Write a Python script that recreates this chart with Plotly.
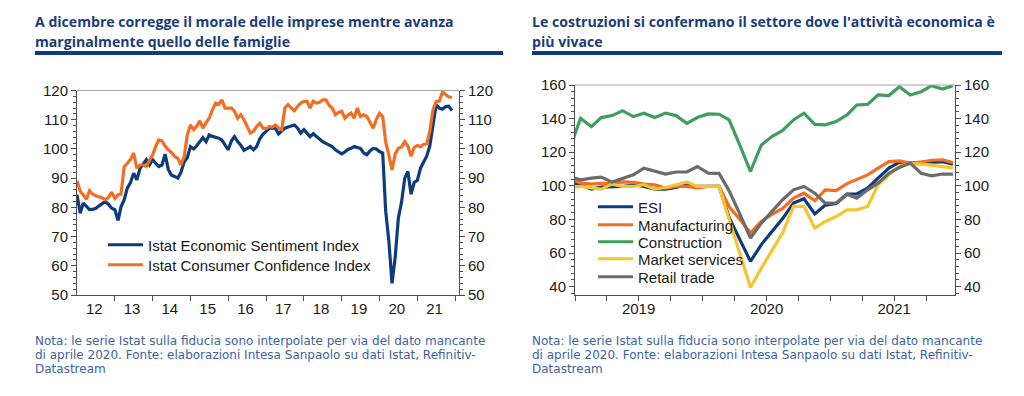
import pandas as pd
import plotly.graph_objects as go

# ---------------- data: left chart (monthly, Jan 2012 - Dec 2021) ----------------
left_months = pd.date_range("2012-01-01", "2021-12-01", freq="MS")
left_years = list(range(2012, 2022))
left_year_labels = ["12", "13", "14", "15", "16", "17", "18", "19", "20", "21"]

istat_esi = [
    84.3, 78.0, 81.5, 80.2, 79.2, 79.3, 79.7, 80.5, 81.4, 82.0,
    81.0, 79.7, 79.2, 75.5, 80.2, 82.6, 86.6, 88.5, 91.7, 89.4,
    93.4, 95.0, 96.3, 94.5, 96.3, 95.0, 94.0, 94.5, 98.2, 93.0,
    91.0, 90.6, 90.0, 92.0, 95.5, 97.0, 100.8, 100.0, 101.0, 102.5,
    103.9, 102.5, 104.8, 104.3, 103.9, 103.7, 103.0, 101.3, 99.7, 102.8,
    104.2, 102.5, 101.3, 99.5, 100.3, 100.8, 99.7, 100.8, 103.5, 105.0,
    106.0, 107.1, 107.1, 107.1, 105.1, 106.0, 107.1, 107.5, 107.9, 108.2,
    107.1, 105.4, 106.6, 105.5, 104.2, 105.2, 104.3, 103.1, 102.5, 101.9,
    101.2, 100.8, 99.7, 99.0, 98.3, 99.0, 99.8, 100.2, 100.8, 100.5,
    100.2, 98.6, 98.0, 99.3, 100.2, 100.0, 99.1, 98.6, 78.6, 68.3,
    54.0, 63.0, 76.3, 81.8, 90.0, 92.3, 84.5, 88.5, 89.3, 93.5,
    95.6, 97.5, 101.0, 108.0, 115.1, 114.0, 113.6, 114.5, 114.6, 113.1,
]
istat_cci = [
    89.0, 85.5, 84.3, 82.8, 85.7, 84.5, 84.0, 83.7, 83.2, 82.6,
    83.5, 85.2, 83.1, 84.3, 84.5, 94.0, 95.0, 96.5, 98.6, 93.4,
    94.5, 94.5, 94.0, 96.0, 98.0, 101.0, 103.1, 102.8, 101.0, 99.7,
    98.8, 97.4, 96.8, 94.5, 97.4, 104.8, 108.2, 106.6, 107.7, 109.6,
    107.1, 109.0, 110.5, 113.4, 115.7, 115.2, 116.8, 114.0, 114.0, 114.0,
    112.9, 110.5, 111.7, 110.0, 107.7, 105.4, 106.0, 107.7, 108.8, 107.1,
    107.0, 107.7, 107.5, 108.2, 107.1, 106.6, 114.0, 115.2, 114.0, 113.1,
    114.6, 115.7, 116.3, 116.3, 114.0, 116.3, 115.7, 116.0, 116.8, 116.8,
    115.0, 114.0, 111.7, 112.5, 112.9, 110.5, 111.5, 112.3, 110.5, 114.0,
    111.1, 111.7, 111.1, 109.0, 107.1, 110.0, 112.2, 111.1, 102.3, 97.8,
    92.8, 98.3, 100.2, 100.7, 102.5, 101.0, 97.5, 100.5, 101.2, 100.8,
    101.5, 101.7, 106.0, 113.5, 116.2, 116.4, 119.5, 118.6, 117.8, 117.6,
]

# ---------------- data: right chart (monthly, Dec 2018 - Dec 2021) ----------------
right_months = pd.date_range("2018-12-01", "2021-12-01", freq="MS")
right_years = [2019, 2020, 2021]

esi = [102.8,
       100.6, 98.0, 99.2, 99.6, 99.6, 100.6, 99.6, 98.0, 98.0, 99.0, 100.6, 99.6,
       99.6, 99.6, 81.0, 68.0, 55.0, 65.0, 73.0, 80.5, 89.7, 92.3, 83.2, 88.5,
       89.5, 95.0, 95.2, 98.6, 104.6, 110.5, 114.1, 113.5, 114.0, 114.2, 114.3, 112.9]
manufacturing = [104.3,
       101.7, 101.0, 101.5, 101.5, 102.3, 102.0, 101.0, 100.6, 98.6, 99.6, 99.6, 98.8,
       99.6, 99.6, 87.5, 80.0, 72.0, 78.8, 83.0, 86.5, 92.7, 95.6, 91.1, 97.6,
       97.1, 101.3, 103.6, 106.5, 110.5, 114.4, 114.8, 113.5, 114.1, 115.2, 115.5, 113.8]
construction = [122.4,
       140.2, 135.2, 140.6, 141.8, 144.7, 141.2, 143.2, 140.6, 143.3, 141.8, 137.2, 140.6,
       142.8, 142.6, 139.2, 123.9, 108.5, 124.3, 129.3, 133.0, 139.2, 143.2, 136.6, 136.3,
       138.2, 142.2, 148.1, 148.5, 154.1, 153.7, 159.0, 154.1, 156.0, 159.6, 157.6, 159.6]
market_services = [99.2,
       99.6, 98.8, 98.0, 101.0, 99.6, 99.6, 100.6, 98.0, 99.0, 100.6, 102.3, 99.6,
       99.6, 99.6, 80.0, 60.0, 39.5, 51.0, 61.0, 72.0, 87.7, 87.7, 74.8, 78.8,
       81.7, 85.7, 85.7, 87.7, 100.6, 106.5, 112.0, 113.0, 112.9, 112.3, 111.5, 110.5]
retail_trade = [105.4,
       103.6, 104.6, 105.2, 102.2, 104.2, 106.5, 110.5, 108.5, 107.0, 108.2, 108.2, 111.5,
       107.5, 107.4, 97.0, 83.0, 68.9, 77.8, 84.7, 91.7, 97.6, 99.6, 95.6, 89.7,
       89.7, 95.0, 92.7, 97.6, 101.6, 107.5, 110.9, 113.5, 107.5, 105.9, 107.0, 107.0]

# ---------------- styles ----------------
NAVY = "#0D3C7C"
ORANGE = "#F26E22"
GREEN = "#3F9E5C"
YELLOW = "#F5C431"
GREY = "#6B6B6B"
TITLE_C = "#1A3C78"
NOTE_C = "#3D63A0"
AXC = "#4D4D4D"
FRAME = "#A6A6A6"
LW = 3.2
TICKFONT = dict(family="Liberation Sans, Arial, sans-serif", size=15, color="#1A1A1A")
LEGFONT = dict(family="Liberation Sans, Arial, sans-serif", size=15, color="#1A1A1A")

# the page places the figure 8 px from the top-left corner of the window
OFF = 8
W, H = 1024 - OFF, 396 - OFF


def px(x):
    return (x - OFF) / W


def py(y):
    return 1 - (y - OFF) / H


fig = go.Figure()

left_series = [("Istat Economic Sentiment Index", istat_esi, NAVY, "y"),
               ("Istat Consumer Confidence Index", istat_cci, ORANGE, "y2")]
for i, (name, vals, col, ax) in enumerate(left_series):
    fig.add_trace(go.Scatter(x=left_months, y=vals, name=name, mode="lines",
                             line=dict(color=col, width=LW), xaxis="x", yaxis=ax,
                             legend="legend" if i == 0 else "legend2"))

right_series = [("ESI", esi, NAVY, "y3"), ("Manufacturing", manufacturing, ORANGE, "y3"),
                ("Construction", construction, GREEN, "y3"),
                ("Market services", market_services, YELLOW, "y3"),
                ("Retail trade", retail_trade, GREY, "y4")]
for i, (name, vals, col, ax) in enumerate(right_series):
    fig.add_trace(go.Scatter(x=right_months, y=vals, name=name, mode="lines",
                             line=dict(color=col, width=LW), xaxis="x2", yaxis=ax,
                             legend="legend%d" % (i + 3)))

# axes
ldom_x = [px(77), px(459)]
ldom_y = [py(295), py(90.5)]
rdom_x = [px(575), px(955)]
rdom_y = [py(295), py(85)]

yl = dict(range=[50, 120], dtick=10, tick0=50, ticks="outside", ticklen=5, tickcolor=AXC,
          showline=True, linecolor=AXC, linewidth=1, showgrid=False, zeroline=False,
          tickfont=TICKFONT, minor=dict(dtick=2, ticks="outside", ticklen=3, tickcolor=AXC))
yr = dict(range=[35, 160], dtick=20, tick0=40, ticks="outside", ticklen=5, tickcolor=AXC,
          showline=True, linecolor=AXC, linewidth=1, showgrid=False, zeroline=False,
          tickfont=TICKFONT, minor=dict(dtick=4, tick0=40, ticks="outside", ticklen=3, tickcolor=AXC))

fig.update_layout(
    width=W, height=H, margin=dict(l=0, r=0, t=0, b=0, pad=0, autoexpand=False),
    paper_bgcolor="white", plot_bgcolor="white",
    xaxis=dict(domain=ldom_x, anchor="y", type="date",
               range=["2012-01-01", "2022-02-07"],
               tickmode="array", tickvals=["%d-06-16" % y for y in left_years],
               ticktext=left_year_labels, ticks="", showline=True, linecolor=AXC,
               showgrid=False, tickfont=TICKFONT,
               minor=dict(tickmode="array", tickvals=["%d-01-01" % y for y in left_years[1:] + [2022]],
                          ticks="outside", ticklen=5, tickcolor=AXC)),
    yaxis=dict(domain=ldom_y, anchor="x", side="left", **yl),
    yaxis2=dict(domain=ldom_y, anchor="x", overlaying="y", side="right", **yl),
    xaxis2=dict(domain=rdom_x, anchor="y3", type="date",
                range=["2018-12-16", "2021-12-07"],
                tickmode="array", tickvals=["%d-06-16" % y for y in right_years],
                ticktext=[str(y) for y in right_years], ticks="", showline=True, linecolor=AXC,
                showgrid=False, tickfont=TICKFONT,
                minor=dict(tickmode="array",
                           tickvals=[d.strftime("%Y-%m-16") for d in
                                     pd.date_range("2018-12-01", "2021-12-01", freq="3MS")],
                           ticks="outside", ticklen=5, tickcolor=AXC)),
    yaxis3=dict(domain=rdom_y, anchor="x2", side="left", **yr),
    yaxis4=dict(domain=rdom_y, anchor="x2", overlaying="y3", side="right", **yr),
    showlegend=True,
)

# legends (one per entry so that the row spacing follows the reference)
leg_common = dict(xanchor="left", yanchor="middle", bgcolor="rgba(0,0,0,0)",
                  borderwidth=0, font=LEGFONT, itemwidth=35)
fig.update_layout(
    legend=dict(x=px(103), y=py(245), **leg_common),
    legend2=dict(x=px(103), y=py(265), **leg_common),
    legend3=dict(x=px(593), y=py(207), **leg_common),
    legend4=dict(x=px(593), y=py(225), **leg_common),
    legend5=dict(x=px(593), y=py(242), **leg_common),
    legend6=dict(x=px(593), y=py(259), **leg_common),
    legend7=dict(x=px(593), y=py(277), **leg_common),
)

# frame (top border of plot areas)
shapes = []
for (x0, x1, y0, y1) in [(77, 459, 90.5, 90.5), (575, 955, 85, 85)]:
    shapes.append(dict(type="line", xref="paper", yref="paper", x0=px(x0), x1=px(x1),
                       y0=py(y0), y1=py(y1), line=dict(color=FRAME, width=1)))
# title underline bars
for (x0, x1) in [(35, 503), (532, 1002)]:
    shapes.append(dict(type="rect", xref="paper", yref="paper", x0=px(x0), x1=px(x1),
                       y0=py(55), y1=py(51), line=dict(width=0), fillcolor="#0F3C7C"))
fig.update_layout(shapes=shapes)

TITLE_FONT = dict(family="Open Sans, sans-serif", size=14.1, color=TITLE_C)
NOTE_FONT = dict(family="DejaVu Sans, sans-serif", size=12, color=NOTE_C)
annotations = []
titles = [
    (35, ["A dicembre corregge il morale delle imprese mentre avanza",
          "marginalmente quello delle famiglie"]),
    (532, ["Le costruzioni si confermano il settore dove l'attività economica è",
           "più vivace"]),
]
for x0, lines in titles:
    for k, t in enumerate(lines):
        annotations.append(dict(text="<b>%s</b>" % t, xref="paper", yref="paper", x=px(x0 - 2),
                                y=py(22 + 19 * k), xanchor="left", yanchor="middle",
                                showarrow=False, font=TITLE_FONT))
note_lines = ["Nota: le serie Istat sulla fiducia sono interpolate per via del dato mancante",
              "di aprile 2020. Fonte: elaborazioni Intesa Sanpaolo su dati Istat, Refinitiv-",
              "Datastream"]
for x0 in (35, 532):
    for k, t in enumerate(note_lines):
        annotations.append(dict(text=t, xref="paper", yref="paper", x=px(x0 - 2),
                                y=py(341 + 14 * k), xanchor="left", yanchor="middle",
                                showarrow=False, font=NOTE_FONT))
fig.update_layout(annotations=annotations)

fig.write_html("out.html")
